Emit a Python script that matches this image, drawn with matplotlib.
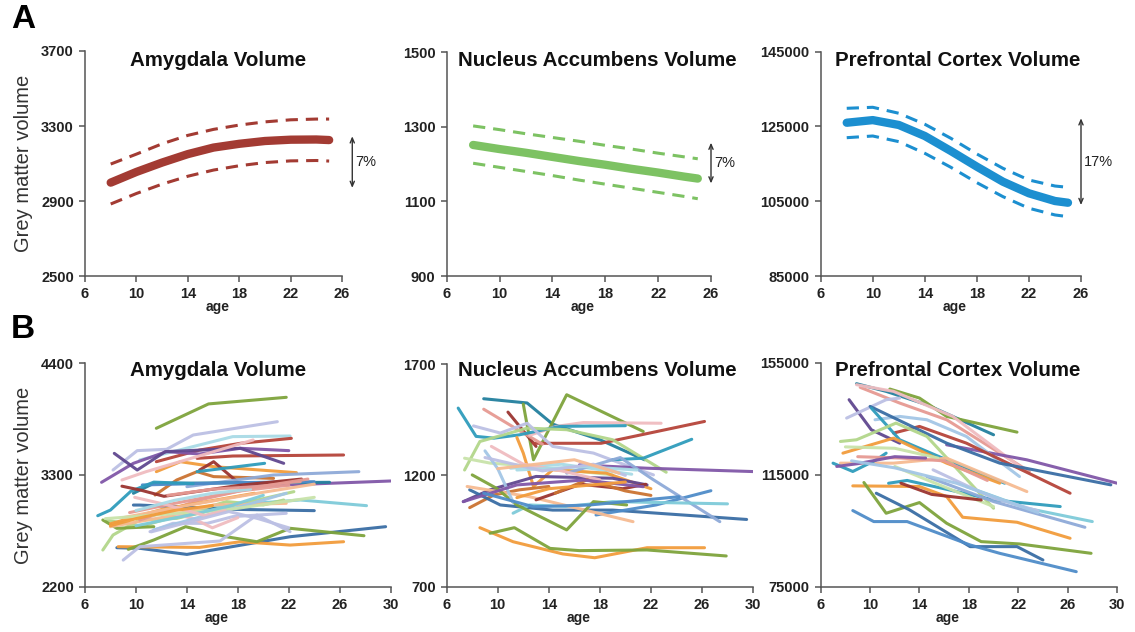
import numpy as np
import matplotlib
matplotlib.use("Agg")
import matplotlib.pyplot as plt
import matplotlib.transforms as mtransforms

plt.rcParams['font.family'] = ['Liberation Sans', 'DejaVu Sans']

# --- palette used for the individual trajectories ---
C = {
    'dark_blue': '#3a6ea5', 'blue': '#4f8cc9', 'light_blue': '#a3c6e6',
    'periwinkle': '#8eaad8', 'lavender': '#bcc0e4', 'purple': '#8157a8',
    'dark_purple': '#60478f', 'teal': '#2f9cbc', 'dark_teal': '#23809e',
    'cyan': '#7fcbd9', 'light_cyan': '#a9dbe6', 'green': '#7ea43c',
    'light_green': '#b2d68a', 'pale_green': '#c9e3aa', 'red': '#b5443a',
    'dark_red': '#9b3430', 'salmon': '#e69a93', 'pink': '#f0bcc0',
    'orange': '#f29c3c', 'brown_orange': '#cb7331', 'peach': '#f6bb92',
}

# --- A: model fits (mean curve and confidence bounds) ---
fit_ages = [8, 10, 12, 14, 16, 18, 20, 22, 24, 25]

amy_fit = [2998, 3055, 3105, 3150, 3185, 3205, 3220, 3227, 3228, 3225]
amy_hi = [3097, 3150, 3205, 3250, 3282, 3305, 3322, 3333, 3337, 3337]
amy_lo = [2884, 2940, 2990, 3032, 3065, 3088, 3105, 3114, 3116, 3113]

nacc_fit = [1251, 1240, 1230, 1219, 1208, 1198, 1187, 1177, 1166, 1161]
nacc_hi = [1302, 1292, 1281, 1271, 1261, 1250, 1240, 1229, 1219, 1214]
nacc_lo = [1202, 1191, 1180, 1169, 1157, 1146, 1135, 1124, 1113, 1107]

pfc_fit = [126000, 126700, 125400, 122450, 118440, 114240, 110230, 107120, 105060, 104600]
pfc_hi = [129860, 130130, 128530, 125590, 121840, 117640, 113810, 110680, 109070, 108720]
pfc_lo = [122000, 122450, 120940, 117820, 114080, 109970, 106230, 103120, 101330, 100880]

# change arrows: (x, bottom, top, label)
amy_change = (26.8, 2970, 3245, '7%')
nacc_change = (26.0, 1148, 1257, '7%')
pfc_change = (26.0, 103990, 127180, '17%')

# --- B: individual longitudinal trajectories ---
amy_ages = [
    [11.6, 15.7, 21.8], [8.2, 10.1, 12.4, 14.5, 21.1], [10.3, 17.6, 22.1],
    [11.6, 15.0, 18.2, 22.2], [7.3, 9.8, 12.4, 15.0, 18.2, 22.0], [14.8, 17.6, 26.3],
    [8.3, 10.1, 12.3, 18.2, 21.6], [11.6, 13.5, 16.1, 22.6], [11.5, 13.2, 14.8, 16.1, 20.8],
    [15.0, 16.1, 18.2], [14.8, 20.1], [8.9, 10.8, 19.2], [14.0, 20.8, 27.5],
    [18.2, 30.0], [9.8, 11.4, 25.2], [10.5, 18.0, 24.0], [15.6, 22.9, 28.1],
    [9.8, 10.3, 17.6, 24.0], [8.5, 10.3, 14.0, 22.1, 29.6], [8.6, 15.0, 18.2, 22.1, 26.3],
    [9.4, 11.4, 13.9, 17.1, 19.5, 22.1, 27.9], [9.0, 10.3, 16.6, 19.5, 22.1],
    [7.4, 8.2, 10.3, 13.2, 22.4], [7.7, 10.3, 14.0, 17.1, 20.0, 21.6], [7.4, 8.5, 11.4],
    [8.0, 12.4, 16.1, 21.8], [10.3, 15.0, 20.8, 22.9], [11.1, 12.9, 15.6, 17.6, 21.8],
    [12.0, 14.5, 16.0, 18.0], [11.4, 15.6, 18.2, 21.8], [7.0, 8.0, 9.6, 11.4, 14.5],
    [8.9, 10.4, 12.2, 18.2, 23.0], [8.0, 12.0, 19.3],
    [9.0, 14.0, 20.0, 24.0], [7.6, 17.3, 24.0], [9.5, 13.0, 18.0, 22.0],
    [10.0, 14.0, 17.5, 20.0], [9.9, 12.3, 15.4, 17.0], [11.2, 17.3, 19.6, 22.0],
    [8.0, 10.0, 13.0, 16.0], [10.0, 13.0, 16.0, 19.0], [12.5, 16.0, 20.0, 23.5],
]
amy_vals = [
    [3760, 4000, 4065], [3349, 3540, 3553, 3694, 3825], [3448, 3678, 3684],
    [3431, 3546, 3612, 3661], [3228, 3415, 3530, 3507, 3563, 3540], [3464, 3487, 3497],
    [3513, 3349, 3530, 3563, 3415], [3333, 3431, 3382, 3323], [3103, 3251, 3333, 3284, 3267],
    [3349, 3431, 3208], [3333, 3415], [3251, 3333, 3645], [3185, 3300, 3333],
    [3185, 3241], [3120, 3218, 3228], [3202, 3225, 3234], [2988, 3054, 2998],
    [3004, 3004, 2962, 2949], [2584, 2578, 2518, 2692, 2791], [2594, 2587, 2643, 2610, 2643],
    [2568, 2660, 2791, 2692, 2643, 2775, 2702], [2462, 2594, 2650, 2906, 2742],
    [2561, 2709, 2857, 2873, 3136], [2857, 2791, 2923, 3038, 3005, 3054], [2857, 2775, 2791],
    [2791, 2890, 3005, 3021], [2857, 3054, 3218, 3234], [2742, 2824, 2824, 2890, 2923],
    [2950, 2870, 2780, 2880], [2760, 2906, 2988, 3120], [2899, 2955, 3140, 3230, 3215],
    [3190, 3150, 3090, 3200, 3260], [2820, 2960, 3120],
    [2880, 3000, 3130, 3210], [2870, 2960, 3080], [2930, 3020, 3140, 3200],
    [2800, 2900, 3000, 3100], [3080, 3010, 2900, 2950], [2740, 2940, 2870, 2780],
    [2800, 2870, 2950, 3000], [2950, 3050, 3120, 3160], [3100, 3160, 3190, 3260],
]
amy_colors = [
    'green', 'lavender', 'light_cyan', 'red', 'purple', 'red', 'dark_purple', 'orange',
    'brown_orange', 'dark_red', 'teal', 'pink', 'periwinkle', 'purple', 'dark_teal', 'blue',
    'cyan', 'dark_blue', 'dark_blue', 'orange', 'green', 'lavender', 'light_green',
    'light_green', 'green', 'peach', 'salmon', 'lavender', 'pink', 'light_blue', 'teal',
    'dark_red', 'orange',
    'peach', 'pale_green', 'salmon', 'cyan', 'pink', 'lavender', 'orange', 'light_cyan',
    'salmon',
]

nacc_ages = [
    [8.9, 12.3, 14.3, 18.0, 21.5], [12.0, 12.8, 15.4, 21.4], [10.8, 13.0], [12.8, 18.1, 26.2],
    [8.9, 11.6, 13.5], [12.5, 14.6, 16.7, 22.8], [6.9, 8.3, 9.7, 11.7, 14.9, 20.0],
    [7.4, 8.6, 12.3, 15.4, 19.0, 23.2], [8.1, 10.2, 12.3, 14.3, 17.5, 19.6, 22.2],
    [16.4, 21.7, 30.0], [19.0, 21.4, 25.2], [7.4, 9.4, 12.8, 19.0], [11.0, 15.0, 20.5],
    [11.5, 12.0, 12.8, 14.3, 18.5, 22.0], [7.8, 9.7, 11.7, 14.0], [7.3, 9.4, 13.0, 19.0, 21.7],
    [7.8, 10.2, 14.3, 19.0, 29.5], [17.7, 22.4, 26.7], [15.4, 19.6, 22.2, 27.4],
    [11.2, 12.5, 15.4, 19.0, 28.0], [7.6, 12.5, 20.6], [8.0, 9.9, 11.5, 15.4, 17.5, 20.1],
    [8.6, 11.2, 15.1, 17.6, 21.7, 26.2], [9.4, 11.3, 14.1, 16.4, 21.7, 27.9],
    [9.0, 10.0, 11.2], [9.5, 12.0, 15.0, 18.0], [13.0, 16.5, 19.8, 21.6], [14.5, 17.0, 20.0, 22.0],
    [7.3, 11.5, 16.7, 21.4], [8.9, 12.8, 17.2, 24.2], [11.5, 16.7, 20.9],
    [11.5, 14.0, 20.0], [9.0, 13.5, 17.5, 20.0], [10.0, 16.0, 19.5],
]
nacc_vals = [
    [1544, 1525, 1430, 1360, 1270], [1520, 1270, 1562, 1397], [1484, 1330], [1344, 1344, 1442],
    [1497, 1404, 1340], [1380, 1420, 1437, 1434], [1502, 1375, 1367, 1382, 1420, 1423],
    [1224, 1352, 1412, 1405, 1360, 1214], [1422, 1390, 1434, 1330, 1300, 1255, 1202],
    [1247, 1232, 1217], [1270, 1277, 1362], [1277, 1255, 1240, 1202], [1232, 1250, 1205],
    [1370, 1300, 1150, 1225, 1210, 1140], [1055, 1112, 1135, 1150], [1082, 1135, 1195, 1187, 1157],
    [1135, 1067, 1044, 1044, 1002], [1022, 1067, 1131], [1210, 1280, 1180, 992],
    [1030, 1067, 1060, 1082, 1072], [1150, 1104, 992], [1202, 1142, 1067, 955, 1082, 1067],
    [965, 902, 847, 830, 875, 875], [940, 965, 872, 862, 865, 838],
    [1310, 1230, 1080], [1330, 1250, 1220, 1180], [1090, 1160, 1140, 1160], [1120, 1180, 1130, 1110],
    [1082, 1157, 1179, 1149], [1120, 1059, 1067, 1104], [1224, 1239, 1224],
    [1100, 1140, 1170], [1280, 1220, 1250, 1200], [1230, 1270, 1210],
]
nacc_colors = [
    'dark_teal', 'green', 'dark_red', 'red', 'salmon', 'pink', 'teal', 'light_green',
    'lavender', 'purple', 'teal', 'pale_green', 'light_cyan', 'orange', 'brown_orange',
    'dark_purple', 'dark_blue', 'blue', 'periwinkle', 'cyan', 'peach', 'green', 'orange',
    'green', 'light_blue', 'pink', 'dark_red', 'brown_orange',
    'purple', 'blue', 'light_cyan', 'orange', 'lavender', 'peach',
]

pfc_ages = [
    [8.9, 11.3, 14.6, 20.0], [11.6, 14.0, 16.2, 21.9], [9.2, 12.4, 16.2, 22.9],
    [8.9, 11.9, 16.7, 22.1], [16.2, 22.7, 30.0], [8.3, 10.1, 12.4], [8.1, 11.3, 12.4],
    [10.4, 12.4, 14.6, 17.8, 22.1], [11.9, 14.0, 17.8, 26.2], [10.0, 16.2, 20.5, 29.5],
    [10.1, 12.4, 16.2, 20.9], [7.6, 8.9, 12.1, 14.6, 20.0], [7.8, 11.9, 16.2, 20.5],
    [7.6, 11.9, 16.2, 22.7], [7.0, 8.6, 10.5, 11.3], [8.6, 14.0, 16.2, 17.5, 21.9, 26.2],
    [9.5, 11.3, 14.0, 16.2, 19.0, 22.1, 27.9], [10.5, 13.2, 18.1, 21.9, 24.0],
    [8.6, 10.3, 13.0, 18.1, 20.5, 26.7], [11.5, 13.0, 20.0, 25.4], [17.8, 22.7, 28.0],
    [14.6, 20.0, 27.4], [15.1, 20.0, 23.6], [12.0, 14.6, 20.0], [12.5, 15.0, 19.0],
    [8.0, 12.0, 15.5], [9.0, 12.5, 16.0, 19.5], [7.3, 9.0, 12.0, 14.5], [8.5, 12.0, 17.0, 23.6],
]
pfc_vals = [
    [147600, 144850, 140070, 129330], [145690, 142460, 135900, 130280],
    [146290, 140670, 134700, 116200], [147240, 144850, 135900, 118000],
    [125750, 120370, 112020], [141870, 131120, 126340], [135300, 141870, 142460],
    [134700, 135900, 134700, 128730, 114400], [129930, 132320, 126340, 108430],
    [139480, 126340, 119180, 111420], [138880, 127540, 120370, 112020],
    [126940, 127540, 133510, 128730, 103060], [122760, 128130, 119180, 112020],
    [119180, 119180, 120970, 109020], [119180, 116200, 120370, 122760],
    [111060, 110830, 107240, 99840, 98050, 92320],
    [112260, 101270, 105090, 97690, 91120, 90290, 86940],
    [108430, 102470, 89330, 89330, 84550], [102230, 98290, 98290, 89930, 86940, 80370],
    [112000, 113000, 106050, 103660], [110830, 103060, 98290], [114400, 105450, 96250],
    [116800, 106650, 102110], [118000, 113210, 103660], [112000, 108000, 106000],
    [125000, 124500, 121000], [121500, 121000, 120000, 113000],
    [118000, 119000, 121500, 121000], [120000, 117500, 112000, 101500],
]
pfc_colors = [
    'dark_teal', 'green', 'salmon', 'pink', 'purple', 'dark_purple', 'lavender',
    'light_blue', 'red', 'dark_blue', 'teal', 'light_green', 'orange', 'peach', 'teal',
    'orange', 'green', 'dark_blue', 'blue', 'teal', 'cyan', 'periwinkle', 'lavender',
    'pale_green', 'dark_red', 'pale_green', 'salmon', 'purple', 'light_blue',
]

titles = ['Amygdala Volume', 'Nucleus Accumbens Volume', 'Prefrontal Cortex Volume']
title_px = [218, 597, 958]

top_ylim = [(2500, 3700), (900, 1500), (85000, 145000)]
top_yticks = [[2500, 2900, 3300, 3700], [900, 1100, 1300, 1500], [85000, 105000, 125000, 145000]]
bot_ylim = [(2200, 4400), (700, 1700), (75000, 155000)]
bot_yticks = [[2200, 3300, 4400], [700, 1200, 1700], [75000, 115000, 155000]]

fit_colors = ['#a33b33', '#7dc263', '#1c8fd0']

W, H = 1135, 632
fig = plt.figure(figsize=(W / 100, H / 100), dpi=100)


def px_axes(l, t, r, b):
    return fig.add_axes([l / W, 1 - b / H, (r - l) / W, (b - t) / H])


top_boxes = [(85, 51, 342, 276), (446.7, 52, 711, 276), (820.7, 51.7, 1081, 276)]
bot_boxes = [(85, 363.3, 390.7, 586.7), (446.7, 364, 753, 586.7), (820.7, 363, 1117, 586.7)]


def style_axes(ax, xlim, xticks, ylim, yticks):
    for s in ['top', 'right']:
        ax.spines[s].set_visible(False)
    for s in ['left', 'bottom']:
        ax.spines[s].set_color('#555555')
        ax.spines[s].set_linewidth(1.1)
    ax.set_xlim(*xlim)
    ax.set_ylim(*ylim)
    ax.set_xticks(xticks)
    ax.set_yticks(yticks)
    ax.tick_params(direction='out', length=4, width=1.1, color='#555555', pad=4)
    for lab in ax.get_xticklabels() + ax.get_yticklabels():
        lab.set_fontweight('bold')
        lab.set_fontsize(10.5)
        lab.set_color('#222222')
    trans = mtransforms.blended_transform_factory(ax.transData, ax.transAxes)
    ax.text(16.3, -0.14, 'age', transform=trans, ha='center', va='center',
            fontsize=10, fontweight='bold', color='#222222')


# top row: fitted trajectories
fits = [(amy_fit, amy_hi, amy_lo, amy_change),
        (nacc_fit, nacc_hi, nacc_lo, nacc_change),
        (pfc_fit, pfc_hi, pfc_lo, pfc_change)]
for i, (mid, hi, lo, change) in enumerate(fits):
    ax = px_axes(*top_boxes[i])
    style_axes(ax, (6, 26), [6, 10, 14, 18, 22, 26], top_ylim[i], top_yticks[i])
    col = fit_colors[i]
    ax.plot(fit_ages, mid, color=col, lw=6, solid_capstyle='round', solid_joinstyle='round')
    ax.plot(fit_ages, hi, color=col, lw=2.2, dashes=(4, 2.6))
    ax.plot(fit_ages, lo, color=col, lw=2.2, dashes=(4, 2.6))
    x, y0, y1, lab = change
    ax.annotate('', xy=(x, y0), xytext=(x, y1), annotation_clip=False,
                arrowprops=dict(arrowstyle='<->,head_length=0.35,head_width=0.15',
                                lw=1.0, color='#333333', shrinkA=0, shrinkB=0))
    ax.text(x + 0.25, (y0 + y1) / 2, lab, ha='left', va='center', fontsize=10.5,
            color='#222222', clip_on=False)
    fig.text(title_px[i] / W, 1 - 60 / H, titles[i], ha='center', va='center',
             fontsize=14.8, fontweight='bold', color='#111111')
    if i == 0:
        ax.set_ylabel('Grey matter volume', fontsize=14.5, color='#333333', labelpad=6)

# bottom row: individual subjects
groups = [(amy_ages, amy_vals, amy_colors),
          (nacc_ages, nacc_vals, nacc_colors),
          (pfc_ages, pfc_vals, pfc_colors)]
for i, (ages, vals, cols) in enumerate(groups):
    ax = px_axes(*bot_boxes[i])
    style_axes(ax, (6, 30), [6, 10, 14, 18, 22, 26, 30], bot_ylim[i], bot_yticks[i])
    for a, v, c in zip(ages, vals, cols):
        ax.plot(a, v, color=C[c], lw=2.2, solid_capstyle='round', alpha=0.95)
    fig.text(title_px[i] / W, 1 - 371 / H, titles[i], ha='center', va='center',
             fontsize=14.8, fontweight='bold', color='#111111')
    if i == 0:
        ax.set_ylabel('Grey matter volume', fontsize=14.5, color='#333333', labelpad=6)

fig.text(23 / W, 1 - 20 / H, 'A', fontsize=24, fontweight='bold', ha='center', va='center')
fig.text(23 / W, 1 - 330 / H, 'B', fontsize=24, fontweight='bold', ha='center', va='center')

fig.savefig('out.png', dpi=100)
